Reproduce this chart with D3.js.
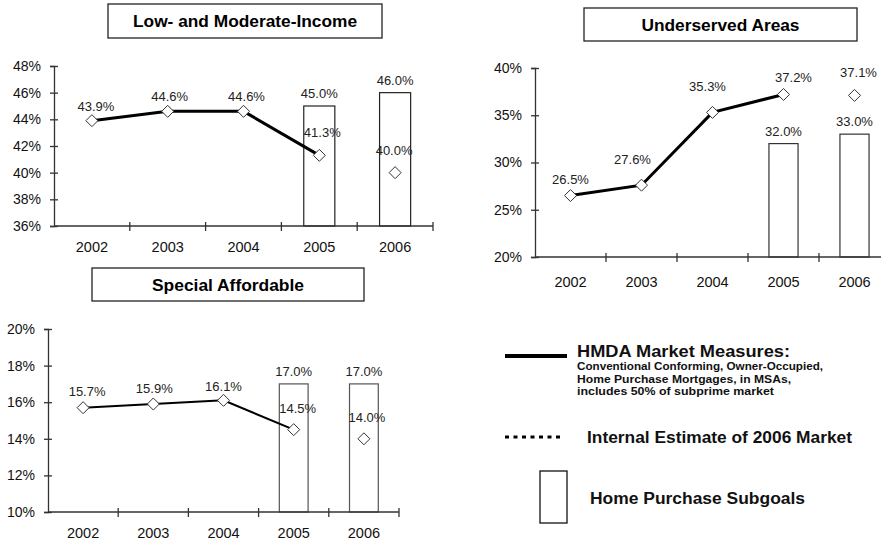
<!DOCTYPE html>
<html>
<head>
<meta charset="utf-8">
<script src="https://cdn.jsdelivr.net/npm/d3@7"></script>
<style>
  body { margin: 0; background: #fff; }
  svg { display: block; font-family: "Liberation Sans", Arial, sans-serif; }
</style>
</head>
<body>
<svg id="chart" width="881" height="541"></svg>
<script>
const years = ["2002", "2003", "2004", "2005", "2006"];

// Low- and Moderate-Income
const lmiMarket = [43.9, 44.6, 44.6, 41.3];
const lmiEstimate = [40.0];
const lmiGoals = [45.0, 46.0];
const lmiTicks = [36, 38, 40, 42, 44, 46, 48];

// Underserved Areas
const usMarket = [26.5, 27.6, 35.3, 37.2];
const usEstimate = [37.1];
const usGoals = [32.0, 33.0];
const usTicks = [20, 25, 30, 35, 40];

// Special Affordable
const saMarket = [15.7, 15.9, 16.1, 14.5];
const saEstimate = [14.0];
const saGoals = [17.0, 17.0];
const saTicks = [10, 12, 14, 16, 18, 20];

const legendMain = "HMDA Market Measures:";
const legendSub = [
  "Conventional Conforming, Owner-Occupied,",
  "Home Purchase Mortgages, in MSAs,",
  "includes 50% of subprime market"
];
const legendEstimate = "Internal Estimate of 2006 Market";
const legendGoals = "Home Purchase Subgoals";

const svg = d3.select("#chart");
const fmt = d => d.toFixed(1) + "%";
const diamond = "M0,-6L6,0L0,6L-6,0Z";

// the original is a bit wider than the font, stretch text to its width
const stretch = (sel, w) => sel.attr("textLength", w).attr("lengthAdjust", "spacingAndGlyphs");

function drawPanel(p) {
  const g = svg.append("g");
  const x = d3.scaleBand().domain(years).range([p.x0, p.x1]);
  const y = d3.scaleLinear().domain([p.ticks[0], p.ticks[p.ticks.length - 1]]).range([p.y0, p.y1]);
  const cx = d => x(d) + x.bandwidth() / 2;

  // title box
  g.append("rect")
    .attr("x", p.box[0]).attr("y", p.box[1])
    .attr("width", p.box[2]).attr("height", p.box[3])
    .attr("fill", "white").attr("stroke", "#222").attr("stroke-width", 1.3);
  g.append("text")
    .attr("x", p.box[0] + p.box[2] / 2).attr("y", p.box[1] + p.box[3] / 2 + 6)
    .attr("text-anchor", "middle")
    .style("font-size", "16px").style("font-weight", "bold")
    .text(p.title)
    .call(stretch, p.titleW);

  // subgoal bars
  const goalYears = years.slice(3);
  const bw = x.bandwidth() * 0.41;
  g.selectAll(".bar").data(p.goals).join("rect")
    .attr("class", "bar")
    .attr("x", (d, i) => cx(goalYears[i]) - bw / 2)
    .attr("y", d => y(d))
    .attr("width", bw)
    .attr("height", d => p.y0 - y(d))
    .attr("fill", "white").attr("stroke", p.barStroke).attr("stroke-width", 1.2);
  g.selectAll(".barlabel").data(p.goals).join("text")
    .attr("class", "barlabel")
    .attr("x", (d, i) => cx(goalYears[i]))
    .attr("y", d => y(d) - 8)
    .attr("text-anchor", "middle")
    .style("font-size", "13px").attr("fill", "#222")
    .text(fmt);

  // y axis
  const ya = g.append("g")
    .attr("transform", `translate(${p.x0},0)`)
    .call(d3.axisLeft(y).tickValues(p.ticks).tickFormat(d => d + "%").tickSizeOuter(0).tickSize(4).tickPadding(9));
  ya.selectAll(".tick line").attr("x2", -4).attr("x1", 4);
  ya.selectAll("text").style("font-size", "14px").attr("fill", "#111");
  ya.selectAll("path, line").attr("stroke", "#333").attr("stroke-width", 1.3);

  // x axis
  const xa = g.append("g")
    .attr("transform", `translate(0,${p.y0})`)
    .call(d3.axisBottom(x).tickSize(0).tickPadding(p.xPad).tickSizeOuter(0));
  xa.select(".domain").attr("d", `M${p.x0},0H${p.xEnd}`).attr("stroke", "#333").attr("stroke-width", 1.3);
  xa.selectAll("text").style("font-size", "14.5px").attr("fill", "#111");
  const bounds = years.map(d => x(d)).concat([p.x1]).filter(v => v > p.x0);
  xa.selectAll(".xt").data(bounds).join("line")
    .attr("class", "xt")
    .attr("x1", d => d).attr("x2", d => d)
    .attr("y1", -4).attr("y2", 5)
    .attr("stroke", "#333").attr("stroke-width", 1.3);

  // market line
  const pts = p.market.map((v, i) => ({ year: years[i], v }));
  g.append("path")
    .datum(pts)
    .attr("fill", "none").attr("stroke", "#000").attr("stroke-width", p.lineWidth)
    .attr("d", d3.line().x(d => cx(d.year)).y(d => y(d.v)));

  const allPts = pts.concat(p.estimate.map(v => ({ year: "2006", v })));
  g.selectAll(".mk").data(allPts).join("path")
    .attr("class", "mk")
    .attr("d", diamond)
    .attr("transform", d => `translate(${cx(d.year)},${y(d.v)})`)
    .attr("fill", "white").attr("stroke", "#333").attr("stroke-width", 1);
  g.selectAll(".ptlabel").data(allPts).join("text")
    .attr("class", "ptlabel")
    .attr("x", (d, i) => cx(d.year) + p.labelDx[i])
    .attr("y", (d, i) => y(d.v) - p.labelDy[i])
    .attr("text-anchor", "middle")
    .style("font-size", "13px").attr("fill", "#222")
    .text(d => fmt(d.v));
}

drawPanel({
  title: "Low- and Moderate-Income", titleW: 224, box: [108, 4, 274, 34],
  x0: 54, x1: 433, xEnd: 433, y0: 226, y1: 66, xPad: 16,
  ticks: lmiTicks, market: lmiMarket, estimate: lmiEstimate, goals: lmiGoals,
  lineWidth: 3, barStroke: "#222",
  labelDx: [4, 2, 3, 3, -1], labelDy: [10, 10, 10, 18, 18]
});

drawPanel({
  title: "Underserved Areas", titleW: 158, box: [584, 8, 273, 33],
  x0: 535, x1: 890, xEnd: 881, y0: 257, y1: 68, xPad: 20,
  ticks: usTicks, market: usMarket, estimate: usEstimate, goals: usGoals,
  lineWidth: 3, barStroke: "#333",
  labelDx: [0, -9, -5, 10, 4], labelDy: [12, 21, 21, 12, 18]
});

drawPanel({
  title: "Special Affordable", titleW: 152, box: [92, 268, 272, 33],
  x0: 48, x1: 399, xEnd: 399, y0: 512, y1: 329, xPad: 16,
  ticks: saTicks, market: saMarket, estimate: saEstimate, goals: saGoals,
  lineWidth: 2, barStroke: "#555",
  labelDx: [4, 1, 0, 4, 3], labelDy: [12, 11, 9, 17, 17]
});

// legend
const lg = svg.append("g").style("font-weight", "bold").attr("fill", "#111");
lg.append("line").attr("x1", 505).attr("x2", 567).attr("y1", 356).attr("y2", 356)
  .attr("stroke", "#000").attr("stroke-width", 4);
lg.append("text").attr("x", 577).attr("y", 357).style("font-size", "16px").text(legendMain)
  .call(stretch, 213);
const subW = [246, 214, 197];
lg.selectAll(".sub").data(legendSub).join("text")
  .attr("class", "sub")
  .attr("x", 577).attr("y", (d, i) => 370 + i * 12.5)
  .style("font-size", "10.5px").text(d => d)
  .each(function (d, i) { d3.select(this).call(stretch, subW[i]); });

lg.append("line").attr("x1", 505).attr("x2", 562).attr("y1", 437).attr("y2", 437)
  .attr("stroke", "#000").attr("stroke-width", 3).attr("stroke-dasharray", "4,4.5");
lg.append("text").attr("x", 587).attr("y", 443).style("font-size", "16px").text(legendEstimate)
  .call(stretch, 265);

lg.append("rect").attr("x", 540).attr("y", 471).attr("width", 27).attr("height", 52)
  .attr("fill", "white").attr("stroke", "#111").attr("stroke-width", 1.3);
lg.append("text").attr("x", 590).attr("y", 504).style("font-size", "16px").text(legendGoals)
  .call(stretch, 215);
</script>
</body>
</html>
